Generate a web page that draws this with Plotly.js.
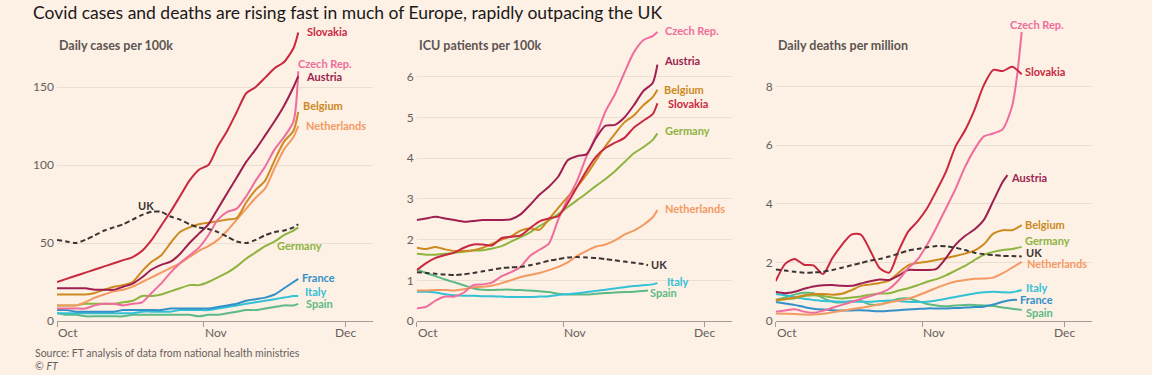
<!DOCTYPE html>
<html>
<head>
<meta charset="utf-8">
<script src="https://cdn.plot.ly/plotly-3.0.1.min.js"></script>
<style>
  html, body { margin: 0; padding: 0; background: #fdf0e5; }
  #chart { width: 1152px; height: 375px; }
</style>
</head>
<body>
<div id="chart"></div>
<script>
// ---------- DATA (days since 1 Oct 2020) ----------
var monthTicks = [0, 31, 61];
var monthLabels = ["Oct", "Nov", "Dec"];

// Panel 1: Daily cases per 100k
var casesDays = [0,2,4,6,8,10,12,14,16,18,20,22,24,26,28,30,32,34,36,38,40,42,44,46,48,50,51];
var casesSlovakia    = [25,27,29,31,33,35,37,39,41,45,52,61,70,80,90,97,100,112,122,134,146,150,156,162,166,175,185];
var casesCzech       = [8,8,8,8,10,11,11,10,11,12,18,24,31,37,42,47,55,65,70,72,80,90,99,110,118,128,160];
var casesAustria     = [21,21,21,21,20,20,20,22,24,28,33,36,38,43,50,56,62,72,82,92,102,110,119,128,138,150,157];
var casesBelgium     = [17,17,17,17,18,20,22,23,25,32,38,42,50,57,60,62,63,64,65,66,76,84,90,103,115,122,134];
var casesNetherlands = [10,10,10,12,15,17,19,20,22,25,28,31,34,37,41,45,48,52,58,65,72,79,85,98,110,118,125];
var casesUK          = [52,51,50,52,55,58,60,62,65,68,70,70,67,65,62,60,59,57,54,51,50,52,55,57,58,60,62];
var casesGermany     = [10,10,10,11,11,11,11,12,13,16,16,17,19,21,23,23,25,28,31,35,40,44,48,51,55,58,60];
var casesFrance      = [7,7,6,6,6,6,6,7,7,7,7,7,8,8,8,8,8,9,10,11,13,14,15,17,21,25,27];
var casesItaly       = [5,5,5,5,5,5,5,5,5,6,6,6,6,7,7,7,7,8,9,10,11,12,13,14,15,16,16];
var casesSpain       = [5,4,4,3,3,3,3,3,4,4,4,4,4,4,4,3,4,4,5,6,7,7,8,9,10,10,11];

// Panel 2: ICU patients per 100k
var icuDays      = [0,2,4,6,8,10,12,14,16,18,20,22,24,26,28,30,32,34,36,38,40,42,44,46,48,50,51];
var icuDaysShort = [0,2,4,6,8,10,12,14,16,18,20,22,24,26,28,30,32,34,36,38,40,42,44,46,48,49];
var icuCzech       = [0.31,0.35,0.5,0.6,0.6,0.7,0.88,0.9,0.95,1.1,1.2,1.33,1.6,1.75,1.9,2.5,3.0,3.45,4.05,4.55,5.15,5.57,6.1,6.6,6.9,7.0,7.1];
var icuAustria     = [2.48,2.52,2.56,2.52,2.48,2.44,2.46,2.48,2.48,2.48,2.5,2.62,2.85,3.1,3.3,3.55,3.95,4.05,4.1,4.5,4.8,4.82,5.0,5.3,5.65,5.85,6.3];
var icuBelgium     = [1.8,1.77,1.82,1.76,1.72,1.72,1.74,1.8,1.9,2.0,2.08,2.22,2.28,2.24,2.5,2.78,3.05,3.3,3.6,3.95,4.3,4.6,4.88,5.05,5.3,5.5,5.68];
var icuSlovakia    = [1.25,1.42,1.55,1.62,1.68,1.8,1.88,1.88,1.86,2.04,2.07,2.1,2.28,2.45,2.52,2.58,2.9,3.3,3.7,4.04,4.25,4.38,4.5,4.75,4.92,5.08,5.35];
var icuGermany     = [1.65,1.63,1.63,1.65,1.68,1.7,1.73,1.74,1.78,1.84,1.95,2.06,2.18,2.33,2.47,2.63,2.8,2.97,3.14,3.32,3.49,3.68,3.9,4.12,4.27,4.45,4.61];
var icuNetherlands = [0.75,0.75,0.76,0.76,0.75,0.78,0.83,0.84,0.87,0.93,1.0,1.08,1.13,1.18,1.25,1.33,1.44,1.6,1.72,1.83,1.88,1.98,2.12,2.22,2.36,2.55,2.73];
var icuItaly       = [0.72,0.72,0.7,0.66,0.63,0.62,0.62,0.61,0.61,0.6,0.59,0.59,0.59,0.6,0.61,0.64,0.66,0.68,0.71,0.74,0.77,0.8,0.83,0.86,0.88,0.9,0.93];
var icuUK          = [1.2,1.18,1.16,1.14,1.13,1.15,1.18,1.22,1.26,1.3,1.32,1.33,1.37,1.42,1.48,1.52,1.56,1.57,1.56,1.55,1.52,1.49,1.46,1.43,1.4,1.37];
var icuSpain       = [1.27,1.18,1.1,1.02,0.95,0.88,0.8,0.77,0.76,0.77,0.77,0.76,0.75,0.73,0.71,0.67,0.65,0.65,0.65,0.67,0.69,0.7,0.71,0.72,0.74,0.75];

// Panel 3: Daily deaths per million
var deathsDays        = [0,2,4,6,8,10,12,14,16,18,20,22,24,26,28,30,32,34,36,38,40,42,44,46,48,50,52];
var deathsDaysCzech   = [0,2,4,6,8,10,12,14,16,18,20,22,24,26,28,30,32,34,36,38,40,42,44,46,48,50,51,52];
var deathsDaysAustria = [0,2,4,6,8,10,12,14,16,18,20,22,24,26,28,30,32,34,36,38,40,42,44,46,48,49];
var deathsDaysFrance  = [0,2,4,6,8,10,12,14,16,18,20,22,24,26,28,30,32,34,36,38,40,42,44,46,48,50,51];
var deathsSlovakia    = [1.36,1.95,2.12,1.92,1.9,1.6,2.15,2.6,2.95,2.95,2.4,1.8,1.65,2.4,3.05,3.4,3.85,4.45,5.1,5.95,6.5,7.2,8.05,8.57,8.53,8.68,8.42];
var deathsCzech       = [0.32,0.36,0.4,0.32,0.28,0.35,0.45,0.55,0.65,0.75,0.85,0.95,1.1,1.4,1.8,2.1,2.6,3.2,3.85,4.5,5.25,5.85,6.3,6.4,6.55,7.35,8.34,9.87];
var deathsAustria     = [1.0,0.95,1.0,1.1,1.18,1.22,1.23,1.2,1.2,1.28,1.36,1.42,1.4,1.55,1.74,1.74,1.74,1.78,2.15,2.6,2.9,3.12,3.45,4.1,4.75,4.98];
var deathsBelgium     = [0.72,0.75,0.8,0.88,0.92,0.92,0.9,0.93,1.05,1.2,1.25,1.3,1.38,1.65,1.9,1.98,2.02,2.08,2.15,2.22,2.3,2.4,2.62,2.98,3.1,3.1,3.27];
var deathsGermany     = [0.7,0.74,0.78,0.85,0.88,0.85,0.8,0.77,0.8,0.84,0.9,0.94,0.95,1.04,1.12,1.22,1.34,1.43,1.56,1.72,1.88,2.08,2.26,2.36,2.42,2.46,2.53];
var deathsUK          = [1.76,1.72,1.68,1.65,1.66,1.68,1.74,1.82,1.9,1.98,2.06,2.12,2.2,2.3,2.4,2.46,2.52,2.56,2.55,2.5,2.42,2.33,2.28,2.25,2.22,2.22,2.2];
var deathsNetherlands = [0.26,0.25,0.24,0.22,0.22,0.25,0.3,0.35,0.4,0.45,0.5,0.57,0.63,0.7,0.76,0.87,1.0,1.13,1.25,1.35,1.4,1.44,1.45,1.48,1.63,1.82,2.02];
var deathsItaly       = [0.92,0.88,0.82,0.76,0.72,0.68,0.67,0.66,0.66,0.66,0.66,0.68,0.7,0.68,0.66,0.65,0.66,0.7,0.76,0.82,0.88,0.94,0.98,1.0,0.98,0.98,1.06];
var deathsFrance      = [0.65,0.6,0.55,0.48,0.42,0.39,0.37,0.36,0.36,0.37,0.35,0.33,0.35,0.37,0.39,0.41,0.43,0.43,0.43,0.44,0.46,0.48,0.49,0.56,0.66,0.72,0.72];
var deathsSpain       = [0.72,0.8,0.9,0.96,0.95,0.78,0.66,0.63,0.68,0.68,0.56,0.56,0.66,0.76,0.77,0.68,0.58,0.53,0.5,0.53,0.55,0.55,0.53,0.51,0.46,0.42,0.38];

// ---------- STYLE ----------
var BG = "#fdf0e5";
var colors = {
  "Slovakia": "#c9283f", "Czech Rep.": "#ef6d9c", "Austria": "#9e1f50",
  "Belgium": "#cc8a1f", "Netherlands": "#f39a62", "UK": "#3a3532",
  "Germany": "#8db43e", "France": "#3390c8", "Italy": "#33c1d6", "Spain": "#5cba84"
};
var FONT = "Lato, 'Noto Sans', sans-serif";
var GREY = "#66605c";

function line(name, xs, ys, ax) {
  var isUK = name === "UK";
  return {
    type: "scatter", mode: "lines", name: name, x: xs, y: ys,
    xaxis: ax.x, yaxis: ax.y, hoverinfo: "skip",
    line: { color: colors[name], width: 2, shape: "spline", smoothing: 0.7, dash: isUK ? "5px,3px" : "solid" }
  };
}
var A1 = {x: "x", y: "y"}, A2 = {x: "x2", y: "y2"}, A3 = {x: "x3", y: "y3"};

var traces = [
  line("Spain", casesDays, casesSpain, A1),
  line("Italy", casesDays, casesItaly, A1),
  line("France", casesDays, casesFrance, A1),
  line("Germany", casesDays, casesGermany, A1),
  line("Netherlands", casesDays, casesNetherlands, A1),
  line("Belgium", casesDays, casesBelgium, A1),
  line("Czech Rep.", casesDays, casesCzech, A1),
  line("Austria", casesDays, casesAustria, A1),
  line("Slovakia", casesDays, casesSlovakia, A1),
  line("UK", casesDays, casesUK, A1),

  line("Spain", icuDaysShort, icuSpain, A2),
  line("Italy", icuDays, icuItaly, A2),
  line("Netherlands", icuDays, icuNetherlands, A2),
  line("Germany", icuDays, icuGermany, A2),
  line("Belgium", icuDays, icuBelgium, A2),
  line("Czech Rep.", icuDays, icuCzech, A2),
  line("Slovakia", icuDays, icuSlovakia, A2),
  line("Austria", icuDays, icuAustria, A2),
  line("UK", icuDaysShort, icuUK, A2),

  line("Spain", deathsDays, deathsSpain, A3),
  line("France", deathsDaysFrance, deathsFrance, A3),
  line("Italy", deathsDays, deathsItaly, A3),
  line("Netherlands", deathsDays, deathsNetherlands, A3),
  line("Germany", deathsDays, deathsGermany, A3),
  line("Belgium", deathsDays, deathsBelgium, A3),
  line("Austria", deathsDaysAustria, deathsAustria, A3),
  line("Czech Rep.", deathsDaysCzech, deathsCzech, A3),
  line("Slovakia", deathsDays, deathsSlovakia, A3),
  line("UK", deathsDays, deathsUK, A3)
];

// ---------- LAYOUT ----------
var W = 1152, H = 375;
function px(x) { return x / W; }
var yDomain = [54 / H, 351 / H];

function xAxis(d0, d1, anchor) {
  return {
    domain: [px(d0), px(d1)], range: [0, 66.8], anchor: anchor,
    tickvals: monthTicks, showticklabels: false, ticks: "outside", ticklen: 5,
    tickcolor: "#a39c96", showline: true, linecolor: "#a39c96", linewidth: 1,
    showgrid: false, zeroline: false, fixedrange: true
  };
}
function yAxis(maxV, tv, anchor) {
  return {
    domain: yDomain, range: [0, maxV], anchor: anchor, tickvals: tv,
    ticks: "", showgrid: true, gridcolor: "#ebdfd4", gridwidth: 1, zeroline: false,
    showline: false, tickfont: { family: FONT, size: 12, color: GREY },
    ticklabelstandoff: 2, fixedrange: true
  };
}

var ann = [];
function label(text, name, xr, yr, xv, yv, ys) {
  ann.push({ text: text, x: xv, y: yv, xref: xr, yref: yr, xanchor: "left", yanchor: "middle",
    yshift: ys || 0, showarrow: false,
    font: { family: FONT, size: 11, color: colors[name], weight: "bold" } });
}
// Panel 1 series labels
label("Slovakia", "Slovakia", "x", "y", 52.5, 185.5);
label("Czech Rep.", "Czech Rep.", "x", "y", 50.6, 165);
label("Austria", "Austria", "x", "y", 52.3, 157);
label("Belgium", "Belgium", "x", "y", 51.6, 138);
label("Netherlands", "Netherlands", "x", "y", 52.3, 125);
label("UK", "UK", "x", "y", 16.7, 74);
label("Germany", "Germany", "x", "y", 46.1, 48.7);
label("France", "France", "x", "y", 51.3, 28.2);
label("Italy", "Italy", "x", "y", 51.9, 18.6);
label("Spain", "Spain", "x", "y", 52.3, 11.3);
// Panel 2
label("Czech Rep.", "Czech Rep.", "x2", "y2", 52.1, 7.13);
label("Austria", "Austria", "x2", "y2", 52.0, 6.41);
label("Belgium", "Belgium", "x2", "y2", 52.0, 5.69);
label("Slovakia", "Slovakia", "x2", "y2", 52.8, 5.34);
label("Germany", "Germany", "x2", "y2", 52.1, 4.68);
label("Netherlands", "Netherlands", "x2", "y2", 52.1, 2.77);
label("UK", "UK", "x2", "y2", 49.3, 1.38);
label("Italy", "Italy", "x2", "y2", 52.5, 0.98);
label("Spain", "Spain", "x2", "y2", 48.9, 0.7);
// Panel 3
label("Czech Rep.", "Czech Rep.", "x3", "y3", 49.1, 10.13);
label("Slovakia", "Slovakia", "x3", "y3", 52.2, 8.51);
label("Austria", "Austria", "x3", "y3", 49.4, 4.89);
label("Belgium", "Belgium", "x3", "y3", 52.2, 3.3);
label("Germany", "Germany", "x3", "y3", 52.2, 2.73, 1);
label("UK", "UK", "x3", "y3", 52.5, 2.37, -1);
label("Netherlands", "Netherlands", "x3", "y3", 52.6, 1.98, -1);
label("Italy", "Italy", "x3", "y3", 52.5, 1.15);
label("France", "France", "x3", "y3", 51.2, 0.72);
label("Spain", "Spain", "x3", "y3", 52.5, 0.3);

// Month labels under each panel
var monthY = 1 - 332 / H;
["x", "x2", "x3"].forEach(function (xr) {
  monthTicks.forEach(function (t, i) {
    ann.push({ text: monthLabels[i], x: t, xref: xr, y: monthY, yref: "paper", showarrow: false,
      xanchor: i < 2 ? "left" : "center", yanchor: "middle", xshift: i < 2 ? -1 : 0,
      font: { family: FONT, size: 12, color: GREY } });
  });
});

// Panel subtitles
[["Daily cases per 100k", 57], ["ICU patients per 100k", 416.5], ["Daily deaths per million", 775.5]].forEach(function (s) {
  ann.push({ text: s[0], x: px(s[1]), y: 1 - 45 / H, xref: "paper", yref: "paper", xanchor: "left", yanchor: "middle",
    showarrow: false, font: { family: FONT, size: 12.5, color: "#5b5551", weight: "bold" } });
});
// Source
ann.push({ text: "Source: FT analysis of data from national health ministries", x: px(33), y: 1 - 353 / H,
  xref: "paper", yref: "paper", xanchor: "left", yanchor: "middle", showarrow: false,
  font: { family: FONT, size: 10.5, color: GREY } });
ann.push({ text: "© <i>FT</i>", x: px(33), y: 1 - 366 / H,
  xref: "paper", yref: "paper", xanchor: "left", yanchor: "middle", showarrow: false,
  font: { family: FONT, size: 10.5, color: GREY } });

var layout = {
  width: W, height: H, autosize: false,
  paper_bgcolor: BG, plot_bgcolor: BG,
  margin: { l: 0, r: 0, t: 0, b: 0, pad: 0 },
  showlegend: false,
  title: { text: "Covid cases and deaths are rising fast in much of Europe, rapidly outpacing the UK",
    x: px(33), xref: "paper", xanchor: "left", y: 1 - 13 / H, yref: "paper", yanchor: "middle",
    font: { family: FONT, size: 17.5, color: "#1a1817" } },
  xaxis: xAxis(57, 373, "y"),
  yaxis: yAxis(297 / 1.56, [0, 50, 100, 150], "x"),
  xaxis2: xAxis(416.7, 732, "y2"),
  yaxis2: yAxis(297 / 40.7, [0, 1, 2, 3, 4, 5, 6], "x2"),
  xaxis3: xAxis(775.7, 1091.7, "y3"),
  yaxis3: yAxis(297 / 29.3, [0, 2, 4, 6, 8], "x3"),
  annotations: ann
};

Plotly.newPlot("chart", traces, layout, { staticPlot: true, displayModeBar: false });
</script>
</body>
</html>
